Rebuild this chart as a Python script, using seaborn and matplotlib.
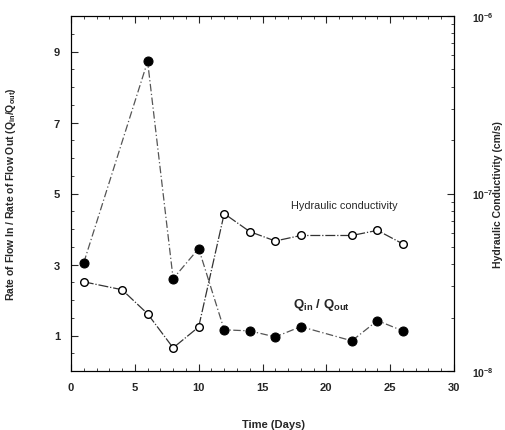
import numpy as np
import pandas as pd
import matplotlib
matplotlib.use("Agg")
import matplotlib.pyplot as plt
from matplotlib.ticker import MultipleLocator, LogLocator, FixedLocator, NullFormatter
import seaborn as sns

# ---- data ----
q_days = [1, 6, 8, 10, 12, 14, 16, 18, 22, 24, 26]
q_ratio = [3.05, 8.72, 2.6, 3.45, 1.16, 1.13, 0.96, 1.25, 0.85, 1.42, 1.13]

k_days = [1, 4, 6, 8, 10, 12, 14, 16, 18, 22, 24, 26]
k_cond = [3.18e-8, 2.87e-8, 2.10e-8, 1.35e-8, 1.77e-8, 7.7e-8, 6.1e-8,
          5.4e-8, 5.8e-8, 5.8e-8, 6.2e-8, 5.2e-8]

x_ticks = [0, 5, 10, 15, 20, 25, 30]
y_ticks = [1, 3, 5, 7, 9]
k_ticks = [1e-8, 1e-7, 1e-6]
k_tick_labels = [r"$\mathbf{10^{-8}}$", r"$\mathbf{10^{-7}}$", r"$\mathbf{10^{-6}}$"]

sns.set_style("ticks")
plt.rcParams["font.family"] = ["Liberation Sans", "DejaVu Sans"]
plt.rcParams["mathtext.fontset"] = "custom"
plt.rcParams["mathtext.rm"] = "Liberation Sans"
plt.rcParams["mathtext.bf"] = "Liberation Sans:bold"

fig = plt.figure(figsize=(5.05, 4.31), dpi=100)
ax = fig.add_axes([71/505, 1-372/431, (454-71)/505, (372-17)/431])
ax2 = ax.twinx()

qdf = pd.DataFrame({"day": q_days, "ratio": q_ratio})
kdf = pd.DataFrame({"day": k_days, "k": k_cond})

sns.lineplot(data=qdf, x="day", y="ratio", ax=ax, color="#555555",
             linewidth=0.9, linestyle=(0, (6, 2, 1, 2)), marker="o",
             markersize=6.5, markerfacecolor="black", markeredgecolor="black",
             zorder=3)

ax2.set_yscale("log")
sns.lineplot(data=kdf, x="day", y="k", ax=ax2, color="#333333",
             linewidth=0.9, linestyle=(0, (8, 1.5, 1, 1.5)), marker="o",
             markersize=5.5, markerfacecolor="white", markeredgecolor="black",
             markeredgewidth=1.0, zorder=3)

ax.set_xlim(0, 30)
ax.set_ylim(0, 10)
ax2.set_ylim(1e-8, 1e-6)

ax.xaxis.set_major_locator(FixedLocator(x_ticks))
ax.xaxis.set_minor_locator(MultipleLocator(1))
ax.yaxis.set_major_locator(FixedLocator(y_ticks))
ax.yaxis.set_minor_locator(MultipleLocator(0.5))
ax.set_xticklabels([str(t) for t in x_ticks], fontweight="bold")
ax.set_yticklabels([str(t) for t in y_ticks], fontweight="bold")
ax2.yaxis.set_major_locator(FixedLocator(k_ticks))
ax2.set_yticklabels(k_tick_labels)
ax2.yaxis.set_minor_locator(LogLocator(base=10, subs=np.arange(2, 10)))
ax2.yaxis.set_minor_formatter(NullFormatter())

ax.tick_params(axis="both", which="major", direction="in", length=5, width=0.8,
               labelsize=8, top=True, pad=8)
ax.tick_params(axis="both", which="minor", direction="in", length=2.5, width=0.6,
               top=True)
ax.tick_params(axis="y", which="both", right=False)
ax2.tick_params(axis="y", which="major", direction="in", length=5, width=0.8,
                labelsize=7.5, pad=13)
ax2.tick_params(axis="y", which="minor", direction="in", length=2.5, width=0.6)

for a in (ax, ax2):
    for s in a.spines.values():
        s.set_linewidth(0.8)
        s.set_color("black")

ax.set_xlabel("Time (Days)", fontsize=8, fontweight="bold")
ax.xaxis.set_label_coords((273-71)/383, -(420-372)/355)
ax.set_ylabel(r"Rate of Flow In / Rate of Flow Out (Q$_\mathbf{in}$/Q$_\mathbf{out}$)",
              fontsize=7.5, fontweight="bold")
ax.yaxis.set_label_coords((18-71)/383, 0.5)
ax2.set_ylabel("Hydraulic Conductivity (cm/s)", fontsize=7.5, fontweight="bold",
               rotation=90, va="center")
ax2.yaxis.set_label_coords((498-71)/383, 0.5)

ax.text(17.2, 4.67, "Hydraulic conductivity", fontsize=7.8, ha="left", va="center")
ax.text(17.4, 1.9, r"$\mathbf{Q_{in}}$ / $\mathbf{Q_{out}}$", fontsize=9.5,
        fontweight="bold", ha="left", va="center")

fig.savefig("out.png", dpi=100)
